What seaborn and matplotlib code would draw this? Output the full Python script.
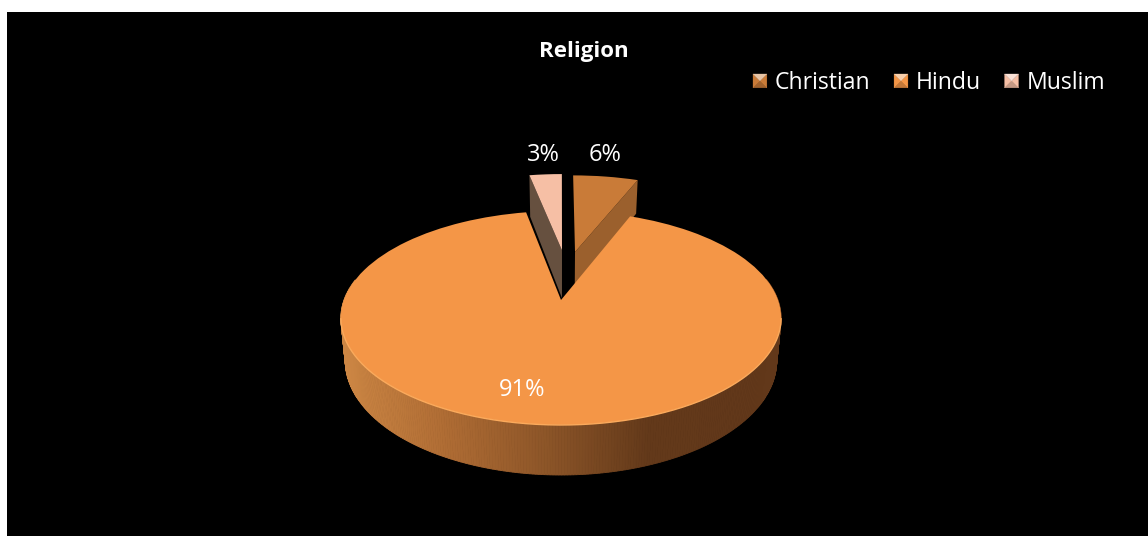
import numpy as np
import matplotlib
matplotlib.use("Agg")
import matplotlib.pyplot as plt
from matplotlib.transforms import Transform
from matplotlib.legend_handler import HandlerBase
from matplotlib.patches import Polygon, Patch
import seaborn as sns

categories = ["Christian", "Hindu", "Muslim"]
values = [6, 91, 3]

SLICE_COLORS = ["#C97B38", "#F49647", "#F6BFA5"]
SIDE_COLORS = ["#9B602D", "#F49647", "#66503F"]
WALL_STOPS = ["#CC8644", "#AF6C34", "#8C5528", "#63391A", "#62381A"]
OFFSETS = [(0.07, 0.50), (0.0, 0.0), (0.005, 0.52)]

APEX = (561.0, 300.0)
CX, BY, K, DEPTH = 217.0, 104.0, 0.168, 41.6

sns.set_theme(style="white")
plt.rcParams["font.family"] = ["Open Sans", "DejaVu Sans"]


def project(x, y, t=0.0):
    x, y, t = np.asarray(x, float), np.asarray(y, float), np.asarray(t, float)
    den = 1 + K * y
    return APEX[0] + CX * (1 - 0.02 * t) * x / den, APEX[1] - (BY * y - DEPTH * t) / den


class Perspective(Transform):
    input_dims = output_dims = 2
    is_affine = False
    has_inverse = False

    def transform_non_affine(self, values):
        v = np.asarray(values, float)
        px, py = project(v[:, 0], v[:, 1])
        return np.column_stack([px, py])


class PyramidHandler(HandlerBase):
    def create_artists(self, legend, orig, xd, yd, w, h, fontsize, trans):
        s = 10.0
        x0 = -xd
        y0 = -yd + (h - s) / 2
        base = np.array(matplotlib.colors.to_rgb(orig.get_facecolor()))
        lighter = base + (1 - base) * 0.55
        darker = base * 0.8
        c = (x0 + s / 2, y0 + s / 2)
        a, b, d, e = (x0, y0), (x0 + s, y0), (x0 + s, y0 + s), (x0, y0 + s)
        parts = [([a, b, c], darker), ([a, e, c], base), ([b, d, c], base), ([e, d, c], lighter)]
        return [Polygon(p, closed=True, facecolor=col, edgecolor=col, lw=0.2, transform=trans) for p, col in parts]


fig = plt.figure(figsize=(11.48, 5.36), dpi=100, facecolor="white")
ax = fig.add_axes([7 / 1148, 0, 1141 / 1148, 524 / 536])

wedges, _ = ax.pie(values, colors=SLICE_COLORS, startangle=90, counterclock=False, radius=1.0)
ax.set_aspect("auto")
ax.set_xlim(7, 1148)
ax.set_ylim(536, 12)
ax.set_frame_on(True)
ax.set_facecolor("black")
for s in ax.spines.values():
    s.set_visible(False)

persp = Perspective() + ax.transData


def rim(theta_deg):
    th = np.radians(theta_deg)
    return np.cos(th), np.sin(th)


# Exploded slices: side faces, then top faces
christian, hindu, muslim = wedges
for wedge, off in zip(wedges, OFFSETS):
    wedge.set_center(off)
    wedge.set_transform(persp)
    wedge.set_linewidth(0)
    wedge.set_edgecolor("none")

for wedge, off, edge_theta, col, depth in [
    (christian, OFFSETS[0], christian.theta1, SIDE_COLORS[0], 1.0),
    (muslim, OFFSETS[2], muslim.theta2, SIDE_COLORS[2], 1.25),
]:
    rx, ry = rim(edge_theta)
    xs = np.array([off[0], off[0] + rx, off[0] + rx, off[0]])
    ys = np.array([off[1], off[1] + ry, off[1] + ry, off[1]])
    ts = np.array([0, 0, depth, depth])
    px, py = project(xs, ys, ts)
    ax.fill(px, py, color=col, lw=0, zorder=1.0)
    wedge.set_zorder(1.1)

# Outer wall of the large slice with a horizontal shading
cmap = sns.blend_palette(WALL_STOPS, as_cmap=True)
thetas = np.linspace(hindu.theta1, hindu.theta2, 500)
for t0, t1 in zip(thetas[:-1], thetas[1:]):
    x0, y0 = rim(t0)
    x1, y1 = rim(t1)
    if min(y0, y1) > 0.2:
        continue
    px, py = project([x0, x1, x1, x0], [y0, y1, y1, y0], [0, 0, 1, 1])
    f = np.clip((px.mean() - 345) / 405, 0, 1)
    ax.fill(px, py, color=cmap(f), lw=0.6, zorder=2)
hindu.set_zorder(3)

# Bevel highlight on the front rim, dark seam beside the small slice
front = np.linspace(190, 350, 200)
fx, fy = rim(front)
px, py = project(fx, fy)
ax.plot(px, py, color="#FBAA5C", lw=1.0, zorder=3.2)
mx, my = rim(hindu.theta1)
px, py = project([0, mx], [0, my])
ax.plot(px - 0.5, py, color="black", lw=1.2, zorder=2.9)

# Labels
pct = [f"{v}%" for v in values]
label_pos = [(605, 155), (522.5, 390), (543.5, 155)]
for txt, (lx, ly) in zip(pct, label_pos):
    ax.text(lx, ly, txt, color="white", fontsize=17, ha="center", va="center", zorder=5)

ax.text(584, 52, "Religion", color="white", fontsize=16, fontweight="bold", ha="center", va="center", zorder=5)

handles = [Patch(facecolor=c, label=n) for c, n in zip(SLICE_COLORS, categories)]
leg = ax.legend(
    handles=handles, labels=categories, ncols=3, frameon=False,
    loc="center left", bbox_to_anchor=(753, 83), bbox_transform=ax.transData,
    fontsize=16.6, labelcolor="white", borderpad=0, borderaxespad=0,
    handlelength=0.6, handleheight=0.7, handletextpad=0.35, columnspacing=1.02,
    handler_map={Patch: PyramidHandler()},
)

fig.savefig("out.png", dpi=100, facecolor="white")
